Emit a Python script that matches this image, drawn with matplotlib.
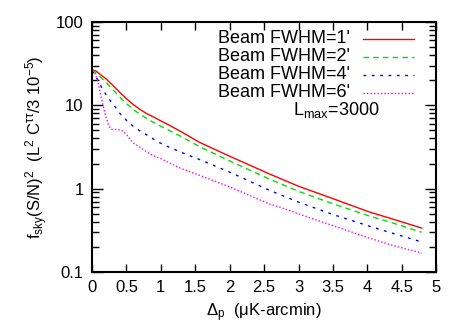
import numpy as np
import matplotlib
matplotlib.use("Agg")
import matplotlib.pyplot as plt

plt.rcParams['font.family'] = ['Liberation Sans', 'DejaVu Sans']
plt.rcParams['mathtext.fontset'] = 'custom'
plt.rcParams['mathtext.rm'] = 'Liberation Sans'
plt.rcParams['mathtext.it'] = 'Liberation Sans'

# values (Delta_p in uK-arcmin, f_sky (S/N)^2)
x_1 = [0, 0.06, 0.12, 0.2, 0.3, 0.41, 0.5, 0.6, 0.7, 0.8, 0.9, 1.0, 1.1, 1.3, 1.56, 2.0,
       2.58, 3.0, 3.5, 4.03, 4.32, 4.79]
fwhm_1 = [26.6, 25.7, 23.4, 20.9, 17.4, 14.1, 12.0, 10.2, 8.9, 7.9, 7.2, 6.5, 5.9, 4.8, 3.6, 2.45,
          1.5, 1.07, 0.76, 0.525, 0.445, 0.337]
x_2 = [0, 0.06, 0.12, 0.2, 0.3, 0.41, 0.5, 0.6, 0.7, 0.8, 0.9, 1.0, 1.1, 1.3, 1.56, 2.0,
       2.58, 3.0, 3.5, 4.03, 4.32, 4.79]
fwhm_2 = [26.6, 24.5, 21.9, 19.1, 15.5, 12.4, 10.5, 8.9, 7.8, 6.9, 6.2, 5.6, 5.1, 4.2, 3.2, 2.15,
          1.3, 0.93, 0.66, 0.47, 0.40, 0.30]
x_4 = [0, 0.04, 0.08, 0.15, 0.225, 0.3, 0.41, 0.5, 0.6, 0.7, 0.8, 0.9, 1.0, 1.1, 1.3, 1.56,
       2.0, 2.58, 3.0, 3.5, 4.03, 4.32, 4.75]
fwhm_4 = [25.7, 23.4, 20.4, 15.8, 12.6, 10.5, 7.9, 6.6, 5.6, 4.9, 4.4, 3.9, 3.5, 3.2, 2.72, 2.24,
          1.58, 0.955, 0.69, 0.49, 0.355, 0.30, 0.235]
x_6 = [0, 0.04, 0.08, 0.12, 0.16, 0.2, 0.24, 0.27, 0.3, 0.35, 0.41, 0.45, 0.5, 0.59, 0.69, 0.8,
       0.88, 1.0, 1.17, 1.3, 1.56, 2.0, 2.58, 2.73, 3.0, 3.5, 4.03, 4.32, 4.79]
fwhm_6 = [25.7, 24.5, 20, 14, 10, 7.3, 5.9, 5.2, 5.13, 5.13, 5.06, 4.9, 4.47, 3.59, 3.16, 2.75,
          2.51, 2.29, 1.95, 1.74, 1.45, 1.05, 0.655, 0.60, 0.50, 0.36, 0.256, 0.214, 0.169]

labels = ["Beam FWHM=1'", "Beam FWHM=2'", "Beam FWHM=4'", "Beam FWHM=6'"]
xticks = [0, 0.5, 1, 1.5, 2, 2.5, 3, 3.5, 4, 4.5, 5]

fig = plt.figure(figsize=(4.67, 3.27), dpi=100)
ax = fig.add_axes([0.197, 0.168, 0.737, 0.765])

series = [
    (x_1, fwhm_1, '#ff0000', '-'),
    (x_2, fwhm_2, '#00e000', (0, (4, 3))),
    (x_4, fwhm_4, '#0000ff', (0, (2, 4))),
    (x_6, fwhm_6, '#ff00ff', (0, (1, 1.5))),
]
for x, y, c, ls in series:
    ax.plot(x, y, color=c, lw=1.0, ls=ls)

ax.set_yscale('log')
ax.set_ylim(0.1, 100)
ax.set_xlim(0, 5)
ax.set_xticks(xticks)
ax.set_xticklabels([f"{t:g}" for t in xticks])
ax.set_yticks([0.1, 1, 10, 100])
ax.set_yticklabels(['0.1', '1', '10', '100'])

ax.tick_params(which='both', direction='in', top=True, right=True, labelsize=12, width=1)
ax.tick_params(which='major', length=8, pad=6)
ax.tick_params(axis='x', which='major', length=6)
ax.tick_params(which='minor', length=5)
for s in ax.spines.values():
    s.set_linewidth(1.5)

# gnuplot-style key, drawn by hand
rows = [0.932, 0.86, 0.788, 0.716]
for (x, y, c, ls), lab, yr in zip(series, labels, rows):
    ax.text(0.75, yr, lab, transform=ax.transAxes, fontsize=13, ha='right', va='center')
    ax.plot([0.788, 0.936], [yr, yr], transform=ax.transAxes, color=c, lw=1.0, ls=ls)

ax.text(0.71, 0.648, r'L$_{\mathrm{max}}$=3000', transform=ax.transAxes,
        fontsize=13, ha='center', va='center')

ax.set_xlabel(r'$\Delta_{\mathrm{p}}$  ($\mu$K-arcmin)', fontsize=12, labelpad=4)
ax.set_ylabel(r'f$_{\mathrm{sky}}$(S/N)$^2$  (L$^2$ C$^{\tau\tau}$/3 10$^{-5}$)',
              fontsize=12, labelpad=4)

fig.savefig('out.png', dpi=100)
